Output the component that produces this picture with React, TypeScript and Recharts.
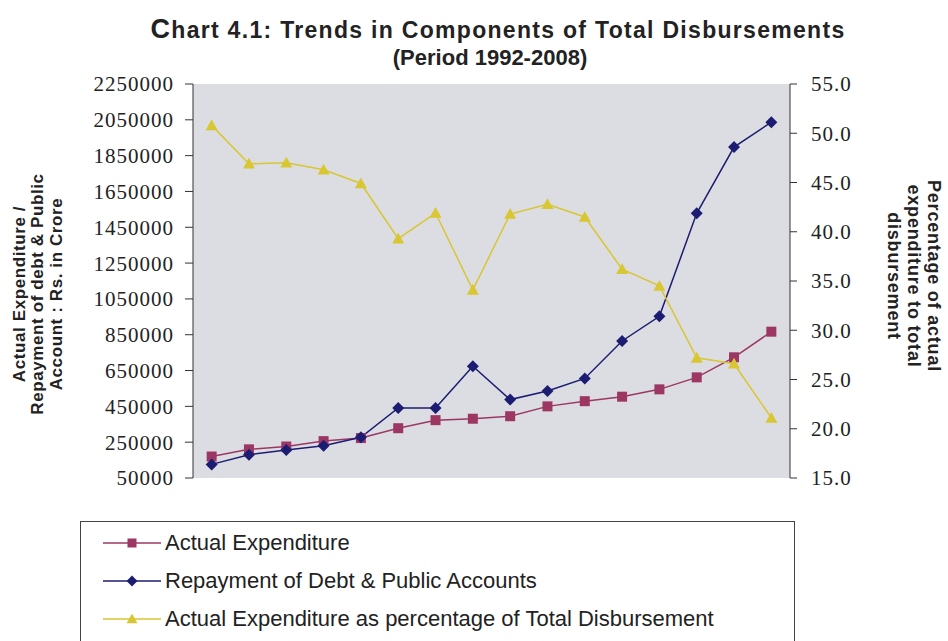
import { CartesianGrid, Legend, Line, LineChart, XAxis, YAxis } from "recharts";

const years = [
  "1992-93", "1993-94", "1994-95", "1995-96", "1996-97", "1997-98", "1998-99", "1999-00",
  "2000-01", "2001-02", "2002-03", "2003-04", "2004-05", "2005-06", "2006-07", "2007-08",
];
const actualExpenditure = [
  170000, 210000, 226000, 256000, 273000, 328000, 373000, 381000,
  395000, 450000, 479000, 504000, 545000, 612000, 724000, 867000,
];
const repayment = [
  126000, 180000, 206000, 230000, 277000, 441000, 441000, 674000,
  488000, 536000, 606000, 815000, 953000, 1528000, 1898000, 2037000,
];
const percentOfTotal = [
  50.8, 46.9, 47.0, 46.3, 44.9, 39.3, 41.9, 34.1,
  41.8, 42.8, 41.5, 36.2, 34.5, 27.2, 26.6, 21.1,
];
const leftTicks = [50000, 250000, 450000, 650000, 850000, 1050000, 1250000, 1450000, 1650000, 1850000, 2050000, 2250000];
const rightTicks = [15, 20, 25, 30, 35, 40, 45, 50, 55];
const legendOrder = ["actual", "repayment", "percent"];

const data = years.map((year, i) => ({
  year,
  actual: actualExpenditure[i],
  repayment: repayment[i],
  percent: percentOfTotal[i],
}));

const MAROON = "#9c3764";
const NAVY = "#1c1c72";
const YELLOW = "#d8c633";

const tickFont = { fontFamily: "'Liberation Serif', 'Times New Roman', serif", fontSize: 21, fill: "#222", letterSpacing: 1 };
const boldSans = "'Liberation Sans', Arial, sans-serif";

function marker(kind: string, cx: number, cy: number, s = 1) {
  if (kind === "square") {
    return <rect x={cx - 5 * s} y={cy - 5 * s} width={10 * s} height={10 * s} fill={MAROON} />;
  }
  if (kind === "diamond") {
    const r = 6 * s;
    return <polygon points={`${cx},${cy - r} ${cx + r},${cy} ${cx},${cy + r} ${cx - r},${cy}`} fill={NAVY} />;
  }
  const r = 6 * s;
  return <polygon points={`${cx},${cy - r} ${cx + r},${cy + r * 0.8} ${cx - r},${cy + r * 0.8}`} fill={YELLOW} />;
}

const dotFor = (kind: string) => (p: any) => {
  if (p.cx == null || p.cy == null) return <g key={p.index} />;
  return <g key={p.index}>{marker(kind, p.cx, p.cy)}</g>;
};

const markerKinds: Record<string, string> = { actual: "square", repayment: "diamond", percent: "triangle" };
const lineColors: Record<string, string> = { actual: MAROON, repayment: NAVY, percent: YELLOW };

function LegendBox(props: any) {
  const payload = [...(props.payload || [])].sort(
    (a: any, b: any) => legendOrder.indexOf(a.dataKey) - legendOrder.indexOf(b.dataKey)
  );
  return (
    <div style={{ border: "1px solid #444", height: 124, boxSizing: "border-box", paddingTop: 2, background: "#fff" }}>
      {payload.map((entry: any) => (
        <div key={entry.dataKey} style={{ display: "flex", alignItems: "center", height: 38, paddingLeft: 22 }}>
          <svg width={58} height={16}>
            <line x1={0} y1={8} x2={58} y2={8} stroke={lineColors[entry.dataKey]} strokeWidth={1.5} />
            {marker(markerKinds[entry.dataKey], 29, 8, 0.9)}
          </svg>
          <span style={{ fontFamily: "'Liberation Sans', Arial, sans-serif", fontSize: 22, marginLeft: 4, color: "#222" }}>
            {entry.value}
          </span>
        </div>
      ))}
    </div>
  );
}

function LeftLabel() {
  const lines = ["Actual Expenditure /", "Repayment of debt & Public", "Account : Rs. in Crore"];
  return (
    <g transform="translate(37, 294) rotate(-90)">
      <text textAnchor="middle" fontFamily={boldSans} fontWeight="bold" fontSize={17} letterSpacing={0.6} fill="#222">
        {lines.map((l, i) => (
          <tspan key={i} x={0} y={(i - 1) * 18.5 + 6}>{l}</tspan>
        ))}
      </text>
    </g>
  );
}

function RightLabel() {
  const lines = ["Percentage of actual", "expenditure to total", "disbursement"];
  return (
    <g transform="translate(914, 276) rotate(90)">
      <text textAnchor="middle" fontFamily={boldSans} fontWeight="bold" fontSize={18} letterSpacing={0.8} fill="#222">
        {lines.map((l, i) => (
          <tspan key={i} x={0} y={(i - 1) * 20 + 6}>{l}</tspan>
        ))}
      </text>
    </g>
  );
}

export default function App() {
  return (
    <div style={{ position: "absolute", left: 0, top: 0, width: 948, height: 641, background: "#fff", overflow: "hidden" }}>
      <div
        style={{
          position: "absolute", left: 0, top: 16, width: 996, textAlign: "center",
          fontFamily: boldSans, fontWeight: "bold", color: "#222",
        }}
      >
        <div style={{ fontSize: 23, lineHeight: "27px", letterSpacing: 1.3 }}>
          <span style={{ fontSize: 27 }}>C</span>hart 4.1: Trends in Components of Total Disbursements
        </div>
        <div style={{ fontSize: 22, lineHeight: "27px", marginLeft: -16 }}>(Period 1992-2008)</div>
      </div>
      <LineChart width={948} height={641} data={data} margin={{ top: 84, right: 58, bottom: 163, left: 93 }}>
        <CartesianGrid fill="#dcdde2" horizontal={false} vertical={false} />
        <XAxis dataKey="year" scale="band" tick={false} tickLine={false} height={0} axisLine={{ stroke: "#777" }} />
        <XAxis xAxisId="top" dataKey="year" orientation="top" scale="band" tick={false} tickLine={false} height={0} axisLine={{ stroke: "#777" }} />
        <YAxis
          yAxisId="left"
          domain={[50000, 2250000]}
          ticks={leftTicks}
          interval={0}
          width={100}
          tickSize={8}
          tickMargin={11}
          axisLine={{ stroke: "#333" }}
          tickLine={{ stroke: "#333" }}
          tick={tickFont}
          label={{ content: () => <LeftLabel /> }}
        />
        <YAxis
          yAxisId="right"
          orientation="right"
          domain={[15, 55]}
          ticks={rightTicks}
          interval={0}
          width={100}
          tickSize={7}
          tickMargin={14}
          axisLine={{ stroke: "#333" }}
          tickLine={{ stroke: "#333" }}
          tick={tickFont}
          tickFormatter={(v: number) => v.toFixed(1)}
          label={{ content: () => <RightLabel /> }}
        />
        <Line yAxisId="left" dataKey="actual" name="Actual Expenditure" stroke={MAROON} strokeWidth={1.5}
          dot={dotFor("square")} activeDot={false} isAnimationActive={false} />
        <Line yAxisId="left" dataKey="repayment" name="Repayment of Debt & Public Accounts" stroke={NAVY} strokeWidth={1.5}
          dot={dotFor("diamond")} activeDot={false} isAnimationActive={false} />
        <Line yAxisId="right" dataKey="percent" name="Actual Expenditure as percentage of Total Disbursement" stroke={YELLOW} strokeWidth={1.5}
          dot={dotFor("triangle")} activeDot={false} isAnimationActive={false} />
        <Legend
          layout="vertical"
          align="center"
          verticalAlign="middle"
          wrapperStyle={{ left: 80, top: 521, width: 715 }}
          content={(p: any) => <LegendBox {...p} />}
        />
      </LineChart>
    </div>
  );
}
